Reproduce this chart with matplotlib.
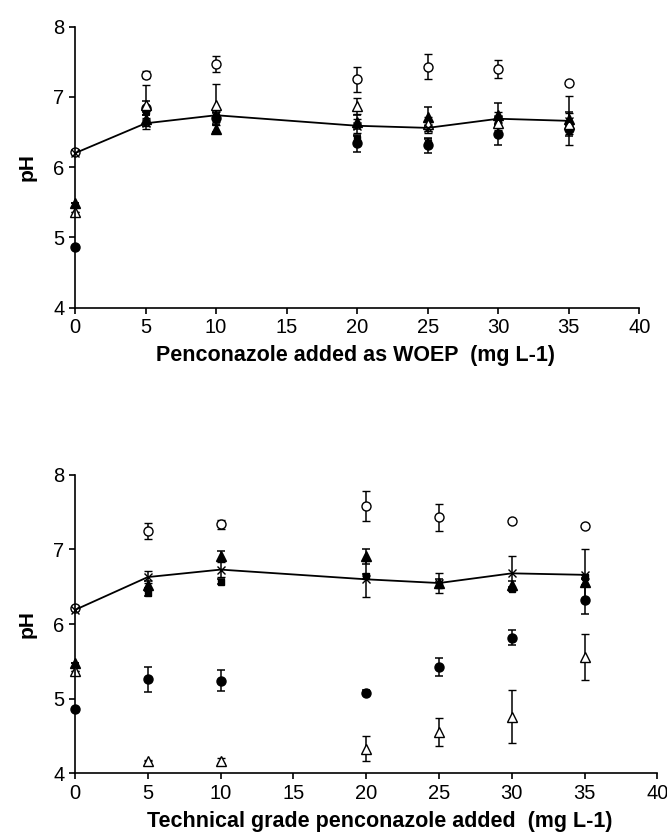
import numpy as np
import matplotlib
matplotlib.use("Agg")
import matplotlib.pyplot as plt

plt.rcParams['font.family'] = ['Liberation Sans', 'DejaVu Sans']

x = [0, 5, 10, 20, 25, 30, 35]
nan = np.nan

# Top panel: penconazole added as WOEP
top_open_circle = [6.21, 7.32, 7.47, 7.25, 7.43, 7.40, 7.20]
top_open_circle_err = [0, 0.05, 0.11, 0.18, 0.18, 0.13, 0.02]
top_filled_circle = [4.86, 6.84, 6.70, 6.34, 6.31, 6.47, 6.55]
top_filled_circle_err = [0, 0.10, 0.08, 0.12, 0.11, 0.15, 0.10]
top_open_tri = [5.36, 6.88, 6.89, 6.87, 6.62, 6.63, 6.62]
top_open_tri_err = [0, 0.29, 0.29, 0.11, 0.10, 0.10, 0.15]
top_filled_tri = [5.49, 6.68, 6.55, 6.65, 6.72, 6.74, 6.68]
top_filled_tri_err = [0, 0.10, 0.05, 0.10, 0.14, 0.17, 0.10]
top_filled_sq = [nan, 6.80, 6.72, 6.40, 6.35, 6.65, 6.58]
top_filled_sq_err = [0, 0.05, 0.05, 0.05, 0.05, 0.05, 0.05]
top_cross = [6.20, 6.625, 6.74, 6.59, 6.56, 6.69, 6.66]
top_cross_err = [0, 0.08, 0.10, 0.10, 0.08, 0.10, 0.35]

# Bottom panel: technical grade penconazole
bot_open_circle = [6.21, 7.25, 7.34, 7.58, 7.43, 7.38, 7.32]
bot_open_circle_err = [0, 0.11, 0.06, 0.20, 0.18, 0.02, 0.02]
bot_filled_circle = [4.86, 5.26, 5.24, 5.08, 5.42, 5.82, 6.32]
bot_filled_circle_err = [0, 0.17, 0.14, 0.03, 0.12, 0.10, 0.19]
bot_open_tri = [5.37, 4.17, 4.17, 4.33, 4.55, 4.76, 5.56]
bot_open_tri_err = [0, 0.01, 0.03, 0.17, 0.19, 0.35, 0.31]
bot_filled_tri = [5.48, 6.53, 6.91, 6.91, 6.55, 6.53, 6.57]
bot_filled_tri_err = [0, 0.05, 0.07, 0.10, 0.05, 0.05, 0.05]
bot_filled_sq = [nan, 6.41, 6.57, 6.64, 6.53, 6.47, 6.63]
bot_filled_sq_err = [0, 0.03, 0.03, 0.03, 0.03, 0.03, 0.03]
bot_cross = [6.19, 6.63, 6.73, 6.60, 6.55, 6.68, 6.66]
bot_cross_err = [0, 0.08, 0.10, 0.24, 0.13, 0.23, 0.34]

xlabels = ["Penconazole added as WOEP  (mg L-1)",
           "Technical grade penconazole added  (mg L-1)"]

fig = plt.figure(figsize=(6.67, 8.36), dpi=100)
ax1 = fig.add_axes([0.1125, 0.632, 0.846, 0.336])
ax2 = fig.add_axes([0.1125, 0.075, 0.873, 0.357])

def panel(ax, oc, oce, fc, fce, ot, ote, ft, fte, fs, fse, cr, cre, xlabel, xlab_pos):
    ekw = dict(ecolor='black', elinewidth=1.1, capsize=3, capthick=1.1, linestyle='none')
    ax.errorbar(x, fs, yerr=fse, marker='s', ms=5, mfc='black', mec='black', **ekw)
    ax.errorbar(x, fc, yerr=fce, marker='o', ms=6.5, mfc='black', mec='black', **ekw)
    ax.errorbar(x, ft, yerr=fte, marker='^', ms=6.5, mfc='black', mec='black', **ekw)
    ax.errorbar(x, ot, yerr=ote, marker='^', ms=6.5, mfc='white', mec='black', mew=1, **ekw)
    ax.errorbar(x, oc, yerr=oce, marker='o', ms=6.5, mfc='white', mec='black', mew=1, **ekw)
    ax.errorbar(x, cr, yerr=cre, marker='x', ms=6, mec='black', mew=1,
                color='black', lw=1.3, ecolor='black', elinewidth=1.1, capsize=3, capthick=1.1)
    ax.set_xlim(0, 40)
    ax.set_ylim(4, 8)
    ax.set_xticks(range(0, 41, 5))
    ax.set_yticks([4, 5, 6, 7, 8])
    for s in ['top', 'right']:
        ax.spines[s].set_visible(False)
    for s in ['left', 'bottom']:
        ax.spines[s].set_linewidth(1.2)
    ax.tick_params(direction='out', length=4, width=1.2, labelsize=14.5)
    ax.set_ylabel('pH', fontsize=15, fontweight='bold', labelpad=12)
    ax.set_xlabel(xlabel, fontsize=15.5, fontweight='bold', labelpad=8)
    ax.xaxis.set_label_coords(xlab_pos, ax.xaxis.label.get_position()[1])
    ax.xaxis.label.set_horizontalalignment('center')
    ax.patch.set_alpha(0)
    for child in ax.get_children():
        try:
            child.set_clip_on(False)
        except Exception:
            pass

panel(ax1, top_open_circle, top_open_circle_err, top_filled_circle, top_filled_circle_err,
      top_open_tri, top_open_tri_err, top_filled_tri, top_filled_tri_err,
      top_filled_sq, top_filled_sq_err, top_cross, top_cross_err, xlabels[0], 0.5)
panel(ax2, bot_open_circle, bot_open_circle_err, bot_filled_circle, bot_filled_circle_err,
      bot_open_tri, bot_open_tri_err, bot_filled_tri, bot_filled_tri_err,
      bot_filled_sq, bot_filled_sq_err, bot_cross, bot_cross_err, xlabels[1], 0.524)

# place x labels in figure pixels matching the reference
ax1.xaxis.label.set_transform(fig.transFigure)
ax1.xaxis.label.set_position((356 / 667, 1 - 356 / 836))
ax2.xaxis.label.set_transform(fig.transFigure)
ax2.xaxis.label.set_position((380 / 667, 1 - 822 / 836))
ax1.xaxis.label.set_verticalalignment('center')
ax2.xaxis.label.set_verticalalignment('center')

fig.savefig('out.png', dpi=100)
